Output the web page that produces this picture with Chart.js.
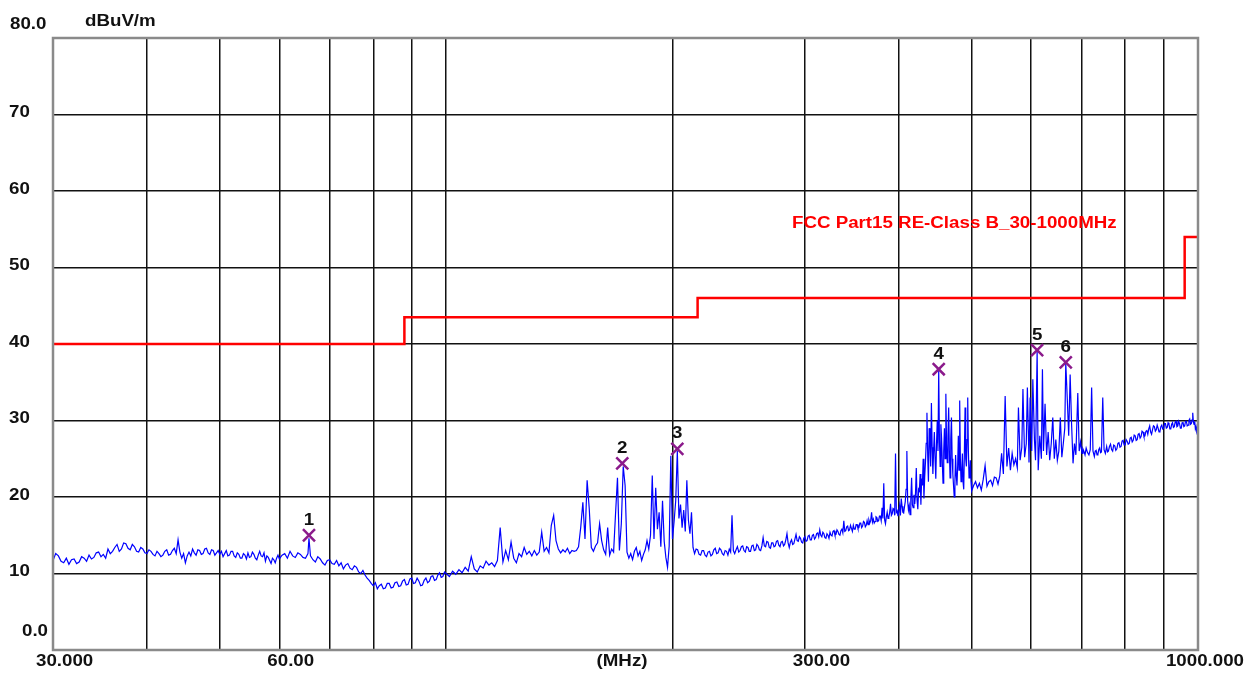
<!DOCTYPE html>
<html>
<head>
<meta charset="utf-8">
<script src="https://cdn.jsdelivr.net/npm/chart.js@4.4.1/dist/chart.umd.min.js"></script>
<style>
  html, body { margin: 0; padding: 0; background: #fff; }
  canvas { display: block; }
</style>
</head>
<body>
<canvas id="emc" width="1244" height="673"></canvas>
<script>
// ===========================
// DATA
// ===========================
const freqMHz = [
  // 30 - 60 MHz
  30,30.25,30.5,30.75,31,31.25,31.5,31.75,32,32.25,
  32.5,32.75,33,33.25,33.5,33.75,34,34.25,34.5,34.75,
  35,35.25,35.5,35.75,36,36.25,36.5,36.75,37,37.25,
  37.5,37.75,38,38.25,38.5,38.75,39,39.25,39.5,39.75,
  40,40.25,40.5,40.75,41,41.25,41.5,41.75,42,42.25,
  42.5,42.75,43,43.25,43.5,43.75,44,44.25,44.5,44.75,
  45,45.25,45.5,45.75,46,46.25,46.5,46.75,47,47.25,
  47.5,47.75,48,48.25,48.5,48.75,49,49.25,49.5,49.75,
  50,50.25,50.5,50.75,51,51.25,51.5,51.75,52,52.25,
  52.5,52.75,53,53.25,53.5,53.75,54,54.25,54.5,54.75,
  55,55.25,55.5,55.75,56,56.25,56.5,56.75,57,57.25,
  57.5,57.75,58,58.25,58.5,58.75,59,59.25,59.5,59.75,
  // 60 - 100 MHz
  60,60.5,61,61.5,62,62.5,63,63.5,64,64.5,
  65,65.5,65.7,66,66.5,67,67.5,68,68.5,69,
  69.5,70,70.5,71,71.5,72,72.5,73,73.5,74,
  74.5,75,75.5,76,76.5,77,77.5,78,78.5,79,
  79.5,80,80.5,81,81.5,82,82.5,83,83.5,84,
  84.5,85,85.5,86,86.5,87,87.5,88,88.5,89,
  89.5,90,90.5,91,91.5,92,92.5,93,93.5,94,
  94.5,95,95.5,96,96.5,97,97.5,98,98.5,99,
  99.5,
  // 100 - 200 MHz
  100,101,102,103,104,105,106,107,108,109,
  110,111,112,113,114,115,116,117,118,119,
  120,121,122,123,124,125,126,127,128,129,
  130,131,132,133,134,135,136,137,138,139,
  140,141,142,143,144,145,146,147,148,149,
  150,151,152,153,154,155,156,157,158,159,
  160,161,162,163,164,165,166,167,168,169,
  170,171,172,173,174,175,176,177,178,179,
  180,181,182,183,184,185,186,187,188,189,
  190,191,192,193,194,195,196,197,198,199,
  // 200 - 400 MHz
  200,201,202,203,204,205,206,207,208,209,
  210,211,212,213,
  214,215,216,217,218,219,220,221,222,223,
  224,225,226,227,228,229,230,231,232,233,
  234,235,236,237,238,239,240,241,242,243,
  244,245,246,247,248,249,250,251,252,253,
  254,255,256,257,258,259,260,261,262,263,
  264,265,266,267,268,269,270,271,272,273,
  274,275,276,277,278,279,280,281,282,283,
  284,285,286,287,288,289,290,291,292,293,
  294,295,296,297,298,299,300,301,302,303,
  304,305,306,307,308,309,310,311,312,313,
  314,315,316,317,318,319,320,321,322,323,
  324,325,326,327,328,329,330,331,332,333,
  334,335,336,337,338,339,340,341,342,343,
  344,345,346,347,348,349,350,351,352,353,
  354,355,356,357,358,359,360,361,362,363,
  364,365,366,367,368,369,370,371,372,373,
  374,375,376,377,378,379,380,381,382,383,
  384,385,386,387,388,389,390,391,392,393,
  394,395,396,397,398,399,
  // 400 - 500 MHz
  400,401,402,403,404,405,406,407,408,409,
  410,411,412,413,414,415,416,417,418,419,
  420,421,422,423,424,425,426,427,428,429,
  430,431,432,433,434,435,436,437,438,439,
  440,441,442,443,444,445,446,447,448,449,
  450,451,452,453,454,455,456,457,458,459,
  460,461,462,463,464,465,466,467,468,469,
  470,471,472,473,474,475,476,477,478,479,
  480,481,482,483,484,485,486,487,488,489,
  490,491,492,493,494,495,496,497,498,499,
  500,
  // 500 - 700 MHz
  503,506,509,512,515,518,521,524,527,530,
  533,536,539,542,545,548,551,554,557,560,
  563,566,569,572,575,577,580,583,585,588,
  591,593,596,598,601,603,606,608,611,613,
  616,619,621,623,626,629,632,635,638,641,
  644,647,650,653,656,659,662,665,667,670,
  673,676,679,682,685,688,692,695,698,701,
  // 700 - 1000 MHz
  703,705,707.5,710,713,716,719,722,725,728,
  730,732,734,736,738,740,742,744,747,750,
  753,756,758,
  760,762.5,765,767.5,770,772.5,775,777.5,780,782.5,
  785,787.5,790,792.5,795,797.5,800,802.5,805,807.5,
  810,812.5,815,817.5,820,822.5,825,827.5,830,832.5,
  835,837.5,840,842.5,845,847.5,850,852.5,855,857.5,
  860,862.5,865,867.5,870,872.5,875,877.5,880,882.5,
  885,887.5,890,892.5,895,897.5,900,902.5,905,907.5,
  910,912.5,915,917.5,920,922.5,925,927.5,930,932.5,
  935,937.5,940,942.5,945,947.5,950,952.5,955,957.5,
  960,962.5,965,967.5,970,972.5,975,977.5,980,982,
  984,986,988,990,992,994,996,998,1000
];

const levelDb = [
  // 30 - 60 MHz
  11.7,12.6,12.3,11.6,11.4,12.0,11.2,11.8,11.9,11.3,
  11.5,12.2,12.0,11.6,12.4,11.9,12.1,12.7,12.8,12.2,
  12.5,12.0,13.2,12.6,12.9,13.4,13.8,12.9,13.2,14.0,
  13.9,13.3,13.1,13.8,13.5,12.9,12.8,13.4,13.2,12.7,
  12.6,13.1,12.9,12.5,12.3,12.9,12.6,12.2,12.4,12.9,
  13.1,12.4,12.5,13.0,13.3,12.6,14.4,12.8,12.0,12.6,
  11.4,12.3,12.8,12.3,13.2,12.7,12.4,13.1,13.0,12.5,
  12.6,13.2,13.3,12.7,12.5,13.1,13.0,12.4,12.7,13.0,
  12.5,12.9,12.2,12.6,13.0,12.3,12.4,12.9,12.9,12.3,
  12.1,12.7,12.5,12.0,12.0,12.6,12.4,11.9,12.7,12.1,
  12.2,12.8,12.5,12.0,11.8,12.4,12.9,12.3,12.2,12.7,
  11.6,12.3,12.1,11.7,11.3,12.0,11.8,11.4,12.0,12.4,
  // 60 - 100 MHz
  11.9,12.4,12.6,12.0,12.9,12.3,12.1,12.7,12.5,12.1,
  12.0,12.6,14.6,12.3,11.8,11.5,12.2,11.9,11.4,11.1,
  11.7,11.8,11.3,11.2,11.7,11.0,11.4,10.6,11.1,11.3,
  10.7,10.5,11.0,10.8,10.2,10.0,10.4,9.8,9.4,9.1,
  8.7,8.4,8.8,8.0,8.4,8.6,8.0,8.1,8.7,8.7,
  8.1,8.2,8.8,8.9,8.3,8.4,9.0,9.2,8.5,8.6,
  9.3,9.4,8.7,8.8,9.4,9.0,8.4,8.5,9.1,9.4,
  8.8,9.0,9.6,9.7,9.1,9.2,9.8,10.1,9.5,9.6,
  10.2,
  // 100 - 200 MHz
  10.0,9.6,10.3,9.9,10.5,10.1,10.8,10.3,12.2,10.6,
  10.2,11.0,10.7,11.6,11.1,11.4,10.9,11.7,16.0,11.5,
  13.0,11.8,14.1,12.0,11.4,12.6,12.2,13.4,12.5,12.9,
  12.3,13.0,12.4,12.8,15.4,12.9,13.4,12.7,16.3,17.6,
  14.3,13.2,12.7,13.1,12.8,13.3,12.6,13.0,12.9,13.0,
  13.5,16.0,19.3,14.5,22.2,18.5,13.4,12.9,13.6,14.0,
  16.5,14.3,13.1,12.5,16.0,12.4,13.2,12.8,17.8,22.5,
  13.0,16.5,24.0,21.5,12.8,12.0,12.6,11.8,12.9,13.4,
  12.3,12.9,11.7,12.5,13.1,14.3,13.2,15.0,22.8,14.5,
  21.2,15.8,18.0,13.5,19.5,14.2,12.1,10.8,13.6,25.4,
  // 200 - 400 MHz
  14.5,16.8,19.5,26.0,17.2,19.0,16.0,18.3,15.5,22.2,
  17.0,15.2,18.0,13.4,
  12.6,13.2,13.1,12.5,12.4,13.0,13.0,12.4,12.2,12.8,
  12.9,12.3,12.5,13.1,13.3,12.6,12.7,13.3,13.1,12.6,
  12.4,13.0,12.9,12.4,13.2,12.8,17.6,13.0,12.6,13.1,
  13.5,12.8,13.0,13.5,13.6,13.0,12.8,13.5,13.4,12.9,
  12.9,13.6,13.7,13.0,13.1,13.8,13.6,13.1,13.0,13.6,
  14.7,13.6,13.5,14.2,14.1,13.4,13.3,14.0,14.0,13.5,
  13.6,14.2,14.3,13.7,13.5,14.1,14.2,13.6,13.8,14.4,
  15.2,14.0,13.4,14.1,14.4,13.8,13.9,14.5,15.1,14.3,
  14.2,14.8,14.6,14.1,14.0,14.6,14.8,14.2,14.3,14.9,
  15.0,14.4,14.4,15.0,15.1,14.5,14.7,15.2,15.3,14.8,
  15.7,15.0,14.8,15.4,15.2,14.7,14.6,15.2,15.0,14.6,
  15.4,15.0,14.9,15.5,15.6,15.0,15.1,15.7,15.5,15.1,
  15.0,15.6,15.8,15.3,16.9,15.5,15.6,16.1,16.2,15.6,
  15.7,16.3,15.9,15.5,16.3,15.8,15.8,16.4,16.4,15.9,
  16.0,16.6,16.6,16.0,16.2,16.8,16.7,16.1,16.3,16.9,
  16.4,17.0,16.6,16.9,18.0,16.7,17.1,16.6,16.8,17.4,
  17.3,16.8,16.9,17.5,17.5,16.9,18.6,17.2,21.8,17.0,
  16.5,17.4,18.0,17.2,17.4,18.0,19.1,17.6,17.8,18.5,
  18.4,17.6,25.7,18.0,18.2,17.5,
  // 400 - 500 MHz
  18.2,18.9,17.6,19.8,18.8,18.0,17.9,18.7,19.4,21.0,
  26.0,19.5,18.3,18.9,17.7,19.6,22.5,19.0,18.6,20.3,
  19.1,20.5,23.8,19.6,18.4,21.0,20.8,23.0,19.0,22.4,
  21.5,25.0,19.8,22.6,24.5,27.0,31.0,25.5,22.0,29.0,
  27.5,24.0,32.3,26.5,23.0,26.0,28.5,25.0,22.4,27.0,
  30.0,26.0,36.5,27.5,24.0,29.5,27.7,24.5,21.8,26.0,
  29.0,25.0,33.5,27.0,24.5,28.0,31.7,26.0,22.5,27.5,
  30.4,25.0,23.0,21.5,20.0,22.0,25.5,22.8,21.5,24.0,
  28.0,23.5,32.6,25.0,22.0,23.0,25.7,22.0,21.0,26.0,
  31.7,25.0,24.0,27.5,33.0,26.0,22.5,23.0,24.8,22.0,
  20.8,
  // 500 - 700 MHz
  21.5,22.0,21.2,21.8,20.9,22.3,24.1,21.4,22.0,22.2,
  21.5,22.6,22.5,21.7,22.8,25.7,23.0,33.2,24.0,26.4,
  23.5,25.7,24.2,25.0,23.8,31.7,24.8,26.5,34.1,25.2,
  27.0,34.3,24.5,33.0,26.0,35.4,27.5,24.8,39.1,23.5,
  28.0,25.0,36.7,26.0,32.2,25.5,28.5,24.8,27.0,30.4,
  25.0,27.5,24.8,26.0,30.4,25.2,27.0,29.0,37.5,33.0,
  28.0,36.0,29.5,24.4,27.0,25.5,33.6,26.0,27.2,25.7,
  // 700 - 1000 MHz
  26.3,26.0,25.5,26.4,25.8,25.5,26.2,34.3,26.0,25.3,
  26.0,26.1,25.5,25.6,26.2,26.4,25.8,25.9,33.0,26.2,
  25.7,26.6,25.9,
  26.0,26.6,26.9,26.2,26.0,26.8,26.7,26.1,26.3,27.0,
  27.1,26.5,26.6,27.3,27.4,26.8,26.8,27.5,27.3,26.9,
  27.0,27.7,27.8,27.2,27.4,28.1,28.0,27.4,27.5,28.2,
  28.3,27.7,27.9,28.6,28.5,27.9,28.0,28.6,28.7,28.2,
  28.9,29.3,28.5,28.2,28.8,29.3,29.2,28.6,28.8,29.4,
  29.0,28.5,28.6,29.2,29.4,28.9,29.0,29.6,29.6,29.0,
  29.1,29.7,29.5,28.9,28.9,29.5,29.7,29.1,29.2,29.8,
  29.9,29.2,29.3,29.9,29.6,29.0,29.0,29.7,29.8,29.2,
  29.3,29.9,29.9,29.3,29.4,30.0,30.2,29.5,29.6,30.1,
  31.0,29.8,29.5,29.9,28.9,29.2,28.6,28.9,28.3
];

// FCC Part15 class B limit (steps)
const limitFreq = [30, 88, 88, 216, 216, 960, 960, 1000];
const limitDb   = [40, 40, 43.5, 43.5, 46, 46, 54, 54];
const limitName = 'FCC Part15 RE-Class B_30-1000MHz';

// peak markers
const markerFreq  = [65.7, 171.5, 203, 452, 611, 667];
const markerDb    = [15.0, 24.4, 26.3, 36.7, 39.2, 37.6];
const markerLabel = ['1', '2', '3', '4', '5', '6'];

// axes
const gridFreq   = [30, 40, 50, 60, 70, 80, 90, 100, 200, 300, 400, 500, 600, 700, 800, 900, 1000];
const xLabelFreq = [30, 60, 300, 1000];
const xLabelText = ['30.000', '60.00', '300.00', '1000.000'];
const yTicks     = [0, 10, 20, 30, 40, 50, 60, 70, 80];
const yTickText  = ['0.0', '10', '20', '30', '40', '50', '60', '70', '80.0'];
const yUnit = 'dBuV/m';
const xUnit = '(MHz)';

// ===========================
// TEXT + FRAME PLUGIN
// ===========================
const FONT = 'bold 16px "Liberation Sans", Arial, sans-serif';
const STRETCH = 1.17;   // the original font is wider than Arial

function wideText(ctx, text, x, y, align) {
  const w = ctx.measureText(text).width * STRETCH;
  let left = x;
  if (align === 'center') left = x - w / 2;
  if (align === 'right') left = x - w;
  ctx.save();
  ctx.translate(left, y);
  ctx.scale(STRETCH, 1);
  ctx.textAlign = 'left';
  ctx.fillText(text, 0, 0);
  ctx.restore();
}

const emcDecor = {
  id: 'emcDecor',
  afterDraw(chart) {
    const { ctx, chartArea: a, scales } = chart;
    const xs = scales.x, ys = scales.y;

    // plot frame
    ctx.save();
    ctx.strokeStyle = '#8a8a8a';
    ctx.lineWidth = 2.5;
    ctx.strokeRect(a.left, a.top, a.right - a.left, a.bottom - a.top);

    ctx.font = FONT;
    ctx.textBaseline = 'middle';
    ctx.fillStyle = '#111';

    // y tick labels
    yTicks.forEach((v, i) => {
      const t = yTickText[i];
      if (v === 80) wideText(ctx, t, 10, a.top - 13, 'left');
      else if (v === 0) wideText(ctx, t, 48, a.bottom - 18, 'right');
      else wideText(ctx, t, 9, ys.getPixelForValue(v) - 1.5, 'left');
    });
    wideText(ctx, yUnit, 85, a.top - 16, 'left');

    // x tick labels
    const ly = a.bottom + 12;
    xLabelFreq.forEach((f, i) => {
      const px = xs.getPixelForValue(f);
      if (i === 0) wideText(ctx, xLabelText[i], px - 17, ly, 'left');
      else if (i === xLabelFreq.length - 1) wideText(ctx, xLabelText[i], chart.width, ly, 'right');
      else wideText(ctx, xLabelText[i], px - 12, ly, 'left');
    });
    wideText(ctx, xUnit, 622, ly, 'center');

    // limit name
    ctx.fillStyle = '#ff0000';
    wideText(ctx, limitName, 792, 224, 'left');

    // marker numbers
    ctx.fillStyle = '#111';
    markerFreq.forEach((f, i) => {
      wideText(ctx, markerLabel[i], xs.getPixelForValue(f), ys.getPixelForValue(markerDb[i]) - 15, 'center');
    });
    ctx.restore();
  }
};

// ===========================
// CHART
// ===========================
const tracePts  = freqMHz.map((f, i) => ({ x: f, y: levelDb[i] }));
const limitPts  = limitFreq.map((f, i) => ({ x: f, y: limitDb[i] }));
const markerPts = markerFreq.map((f, i) => ({ x: f, y: markerDb[i] }));

new Chart(document.getElementById('emc'), {
  type: 'line',
  data: {
    datasets: [
      {
        label: 'markers',
        data: markerPts,
        showLine: false,
        pointStyle: 'crossRot',
        pointRadius: 8.5,
        pointBorderWidth: 2.5,
        pointBorderColor: '#8b1a8b',
        pointBackgroundColor: '#8b1a8b'
      },
      {
        label: limitName,
        data: limitPts,
        borderColor: '#ff0000',
        borderWidth: 2.5,
        pointRadius: 0,
        tension: 0
      },
      {
        label: 'QP trace',
        data: tracePts,
        borderColor: '#0000ff',
        borderWidth: 1.2,
        pointRadius: 0,
        tension: 0
      }
    ]
  },
  options: {
    responsive: false,
    animation: false,
    layout: { padding: { left: 53, top: 38, right: 46, bottom: 23 } },
    plugins: { legend: { display: false }, tooltip: { enabled: false } },
    scales: {
      x: {
        type: 'logarithmic',
        min: 30, max: 1000,
        afterBuildTicks: axis => { axis.ticks = gridFreq.map(v => ({ value: v })); },
        ticks: { display: false },
        grid: { color: '#111', lineWidth: 1.5, drawTicks: false },
        border: { display: false }
      },
      y: {
        min: 0, max: 80,
        afterBuildTicks: axis => { axis.ticks = yTicks.map(v => ({ value: v })); },
        ticks: { display: false },
        grid: { color: '#111', lineWidth: 1.5, drawTicks: false },
        border: { display: false }
      }
    }
  },
  plugins: [emcDecor]
});
</script>
</body>
</html>
